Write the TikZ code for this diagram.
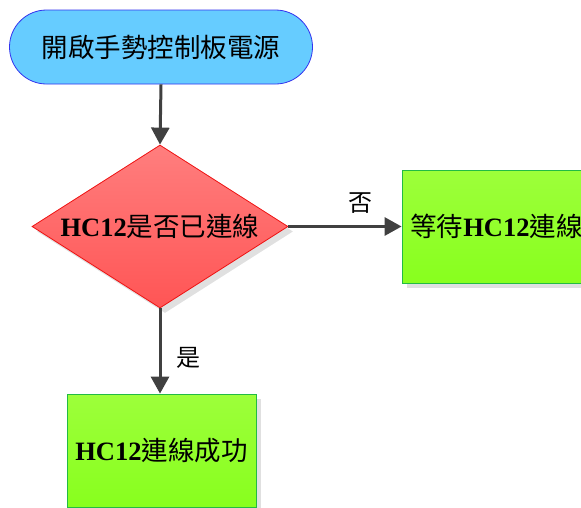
\documentclass[tikz,border=0pt]{standalone}
\usepackage{fontspec}
\setmainfont{Liberation Serif}
\newfontfamily\cjk{Noto Sans CJK TC}
\usetikzlibrary{shapes.geometric,arrows.meta,shadows}
\definecolor{termfill}{HTML}{66CCFF}
\definecolor{termdraw}{HTML}{3333EE}
\definecolor{dtop}{HTML}{FF7E7E}
\definecolor{dbot}{HTML}{FF5555}
\definecolor{ddraw}{HTML}{EE1111}
\definecolor{gtop}{HTML}{9DFF3A}
\definecolor{gbot}{HTML}{88FF1E}
\definecolor{gdraw}{HTML}{22BB44}
\definecolor{arr}{HTML}{404040}
\tikzset{
  x=1pt,y=1pt,
  txt/.style={font=\fontsize{26.5}{30}\selectfont, text=black},
  term/.style={txt, draw=termdraw, fill=termfill, line width=0.8pt, rounded corners=37pt,
    minimum width=303pt, minimum height=74pt, inner sep=0pt},
  decision/.style={txt, diamond, draw=ddraw, line width=0.8pt, top color=dtop, bottom color=dbot,
    aspect=1.57, minimum width=256pt, minimum height=163pt, inner sep=0pt,
    drop shadow={shadow xshift=5pt, shadow yshift=-5pt, fill=black, opacity=0.12}},
  procbox/.style={txt, draw=gdraw, line width=0.8pt, top color=gtop, bottom color=gbot,
    minimum width=189pt, minimum height=113pt, inner sep=0pt,
    drop shadow={shadow xshift=5pt, shadow yshift=-5pt, fill=black, opacity=0.12}},
  flow/.style={draw=arr, line width=3pt, -{Triangle[length=17pt,width=18pt]}},
  lbl/.style={font=\fontsize{24}{28}\selectfont\cjk, text=black, inner sep=0pt}
}
\begin{document}
\begin{tikzpicture}
\useasboundingbox (0,0) rectangle (581,-507);
\node[term] (start) at (161,-47) {\cjk 開啟手勢控制板電源};
\node[decision] (dec) at (160,-226.5) {{\bfseries HC12}{\cjk 是否已連線}};
\node[procbox] (wait) at (496.5,-226.5) {{\cjk 等待}{\bfseries HC12}{\cjk 連線}};
\node[procbox] (ok) at (161.5,-450.5) {{\bfseries HC12}{\cjk 連線成功}};
\draw[flow] (start.south) -- (dec.north);
\draw[flow] (dec.east) -- (wait.west);
\draw[flow] (dec.south) -- (dec.south |- ok.north);
\node[lbl] (no) at (360,-203) {否};
\node[lbl] (yes) at (188,-358) {是};
\end{tikzpicture}
\end{document}
